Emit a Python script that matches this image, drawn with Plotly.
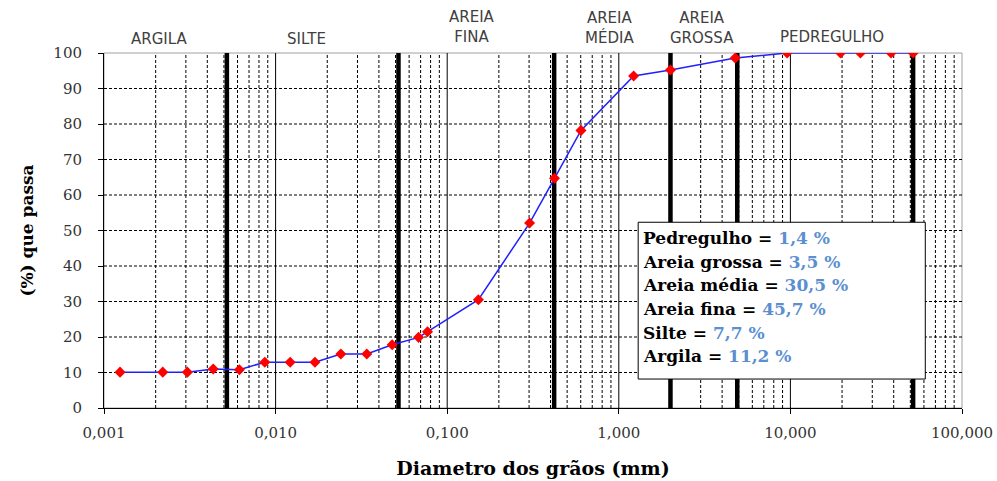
import plotly.graph_objects as go

# ---------------- data ----------------
diam_mm = [51.9, 38.6, 25.6, 19.6, 9.57, 4.77, 2.0, 1.22, 0.602, 0.422, 0.302, 0.152,
           0.0768, 0.0681, 0.0478, 0.034, 0.024, 0.01695, 0.01216, 0.00865, 0.00615,
           0.00433, 0.00306, 0.0022, 0.00124]
passing_pct = [100, 100, 100, 100, 100, 98.6, 95.2, 93.5, 78.2, 64.7, 52.1, 30.5,
               21.5, 19.9, 17.8, 15.2, 15.2, 12.9, 12.9, 12.9, 10.8,
               11.0, 10.1, 10.1, 10.1]

boundaries_mm = [0.0052, 0.052, 0.42, 2.0, 4.9, 51.9]

zone_labels = ["ARGILA", "SILTE", "AREIA<br>FINA", "AREIA<br>MÉDIA", "AREIA<br>GROSSA", "PEDREGULHO"]

fraction_names = ["Pedregulho", "Areia grossa", "Areia média", "Areia fina", "Silte", "Argila"]
fraction_values = ["1,4 %", "3,5 %", "30,5 %", "45,7 %", "7,7 %", "11,2 %"]

x_tickvals = [0.001, 0.01, 0.1, 1, 10, 100]
x_ticktext = ["0,001", "0,010", "0,100", "1,000", "10,000", "100,000"]
y_tickvals = list(range(0, 101, 10))

# ---------------- geometry (window pixels) ----------------
X0, X1 = 104, 961.7      # plot area left/right
Y0, Y1 = 52.5, 408       # plot area top/bottom
W, H = 997, 481
L, T = X0, Y0
R = W - X1
B = H - Y1


def px(x):
    return (x - X0) / (X1 - X0)


def py(y):
    return (Y1 - y) / (Y1 - Y0)


SERIF = "DejaVu Serif"

fig = go.Figure()

# minor vertical dashed grid
mx, my = [], []
for d in range(-3, 2):
    for m in range(2, 10):
        v = m * 10 ** d
        mx += [v, v, None]
        my += [0, 100, None]
fig.add_trace(go.Scatter(x=mx, y=my, mode="lines", hoverinfo="skip", showlegend=False,
                         line=dict(color="black", width=1, dash="3px,2px")))
# horizontal dashed grid
hx, hy = [], []
for v in y_tickvals[1:-1]:
    hx += [0.001, 100, None]
    hy += [v, v, None]
fig.add_trace(go.Scatter(x=hx, y=hy, mode="lines", hoverinfo="skip", showlegend=False,
                         line=dict(color="black", width=1, dash="3px,2px")))
# decade solid lines
dx, dy = [], []
for v in x_tickvals[1:-1]:
    dx += [v, v, None]
    dy += [0, 100, None]
fig.add_trace(go.Scatter(x=dx, y=dy, mode="lines", hoverinfo="skip", showlegend=False,
                         line=dict(color="black", width=1)))
# thick boundary lines
bx, by = [], []
for v in boundaries_mm:
    bx += [v, v, None]
    by += [0, 100, None]
fig.add_trace(go.Scatter(x=bx, y=by, mode="lines", hoverinfo="skip", showlegend=False,
                         line=dict(color="black", width=4.5)))

# grading curve
fig.add_trace(go.Scatter(x=diam_mm, y=passing_pct, mode="lines+markers", showlegend=False,
                         line=dict(color="#2020ff", width=1.5),
                         marker=dict(symbol="diamond", size=8.5, color="red")))

# frame (grey top/right)
fig.add_shape(type="rect", xref="paper", yref="paper", x0=0, x1=1, y0=0, y1=1,
              line=dict(color="#a0a0a0", width=1), layer="below")

# zone labels
zone_px = [159, 306, 472, 609, 702, 832]
zone_py = [38, 38, 26, 27, 27, 36]
for lab, xp, yp in zip(zone_labels, zone_px, zone_py):
    fig.add_annotation(text=lab, xref="paper", yref="paper", x=px(xp), y=py(yp),
                       xanchor="center", yanchor="middle", showarrow=False,
                       font=dict(family="DejaVu Sans", size=15, color="#404040"))

# summary box
fig.add_shape(type="rect", xref="paper", yref="paper", x0=px(638), x1=px(925),
              y0=py(379), y1=py(222), line=dict(color="black", width=1),
              fillcolor="white", layer="above")
row_y0, row_dy = 238, 23.6
for i, (nm, val) in enumerate(zip(fraction_names, fraction_values)):
    fig.add_annotation(text=f"<b>{nm} = <span style='color:#5b8fd0'>{val}</span></b>",
                       xref="paper", yref="paper", x=px(641), y=py(row_y0 + i * row_dy),
                       xanchor="left", yanchor="middle", showarrow=False,
                       font=dict(family=SERIF, size=17, color="black"))

fig.update_layout(
    width=W, height=H,
    margin=dict(l=L, r=R, t=T, b=B, autoexpand=False),
    plot_bgcolor="white", paper_bgcolor="white",
    showlegend=False,
    xaxis=dict(type="log", range=[-3, 2], tickvals=x_tickvals, ticktext=x_ticktext,
               showgrid=False, zeroline=False, showline=True, linecolor="black", linewidth=1,
               ticks="outside", ticklen=5, tickcolor="black", ticklabelstandoff=6,
               automargin=False,
               tickfont=dict(family=SERIF, size=15, color="#333"),
               title=dict(text="<b>Diametro dos grãos (mm)</b>", standoff=20,
                          font=dict(family=SERIF, size=19, color="black"))),
    yaxis=dict(range=[0, 100], tickvals=y_tickvals,
               showgrid=False, zeroline=False, showline=True, linecolor="black", linewidth=1,
               ticks="outside", ticklen=5, tickcolor="black", ticklabelstandoff=13,
               automargin=False,
               tickfont=dict(family=SERIF, size=15, color="#333"),
               title=dict(text="<b>(%) que passa</b>", standoff=15,
                          font=dict(family=SERIF, size=17, color="black"))),
)

fig.write_html("out.html", config={"displayModeBar": False},
               post_script="document.body.style.margin='0';")
